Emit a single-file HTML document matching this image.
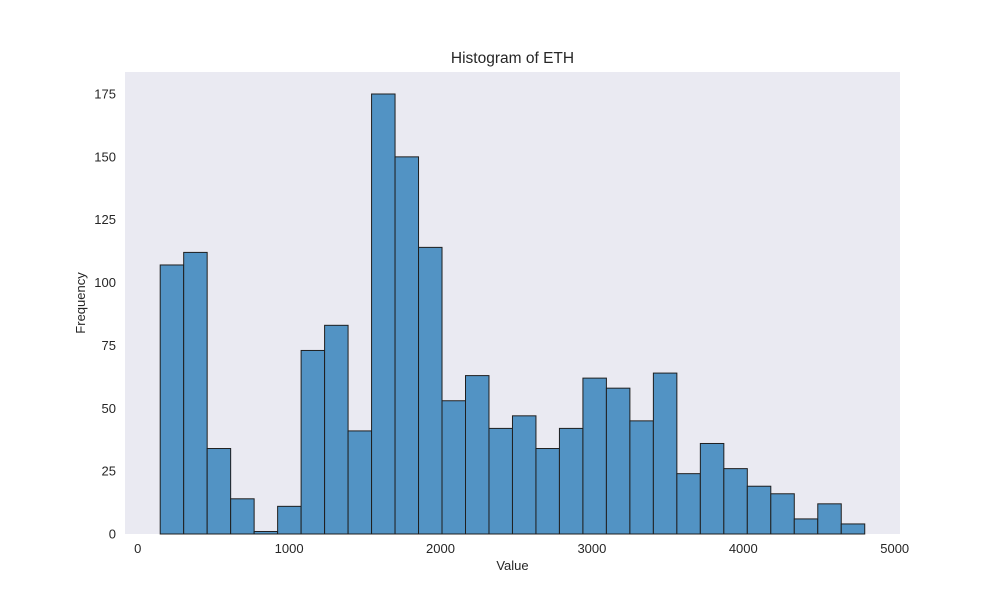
<!DOCTYPE html>
<html><head><meta charset="utf-8"><style>
body{margin:0;background:#fff;font-family:"Liberation Sans","DejaVu Sans",sans-serif}
svg text{font-family:"Liberation Sans","DejaVu Sans",sans-serif;fill:#262626}
</style></head><body>
<svg id="c" width="1000" height="600"></svg>
<script>
const binStart = 148.5;
const binWidth = 155.12;
const counts = [107,112,34,14,1,11,73,83,41,175,150,114,53,63,42,47,34,42,62,58,45,64,24,36,26,19,16,6,12,4];
const xTicks = [0,1000,2000,3000,4000,5000];
const yTicks = [0,25,50,75,100,125,150,175];
const L=125,R=900,T=72,B=534, xmin=-84, xmax=5035, ymax=183.75;
const sx=v=>L+(v-xmin)/(xmax-xmin)*(R-L);
const sy=v=>B-v/ymax*(B-T);
const svg=document.getElementById('c');
const NS='http://www.w3.org/2000/svg';
function mk(tag,attrs,parent){const e=document.createElementNS(NS,tag);for(const k in attrs)e.setAttribute(k,attrs[k]);(parent||svg).appendChild(e);return e;}
const bg=mk('rect',{x:L,y:T,width:R-L,height:B-T,fill:'#eaeaf2'});


counts.forEach((c,i)=>{
  const x0=sx(binStart+i*binWidth), x1=sx(binStart+(i+1)*binWidth);
  const r=mk('rect',{x:x0,y:sy(c),width:x1-x0,height:sy(0)-sy(c),fill:'#5293c4',stroke:'#1f1f1f','stroke-width':1});
  
  
});
xTicks.forEach(t=>{
  const e=mk('text',{x:sx(t),y:B+19,'text-anchor':'middle','font-size':13});
  e.textContent=t;
  
  
});
yTicks.forEach(t=>{
  const e=mk('text',{x:L-9,y:sy(t)+4.5,'text-anchor':'end','font-size':13});
  e.textContent=t;
  
  
});
const title=mk('text',{x:(L+R)/2,y:T-9,'text-anchor':'middle','font-size':15.5});
title.textContent='Histogram of ETH';


const xl=mk('text',{x:(L+R)/2,y:B+36,'text-anchor':'middle','font-size':13});
xl.textContent='Value';


const yl=mk('text',{x:0,y:0,'text-anchor':'middle','font-size':13,transform:'translate(85,'+((T+B)/2)+') rotate(-90)'});
yl.textContent='Frequency';


</script>
</body></html>
